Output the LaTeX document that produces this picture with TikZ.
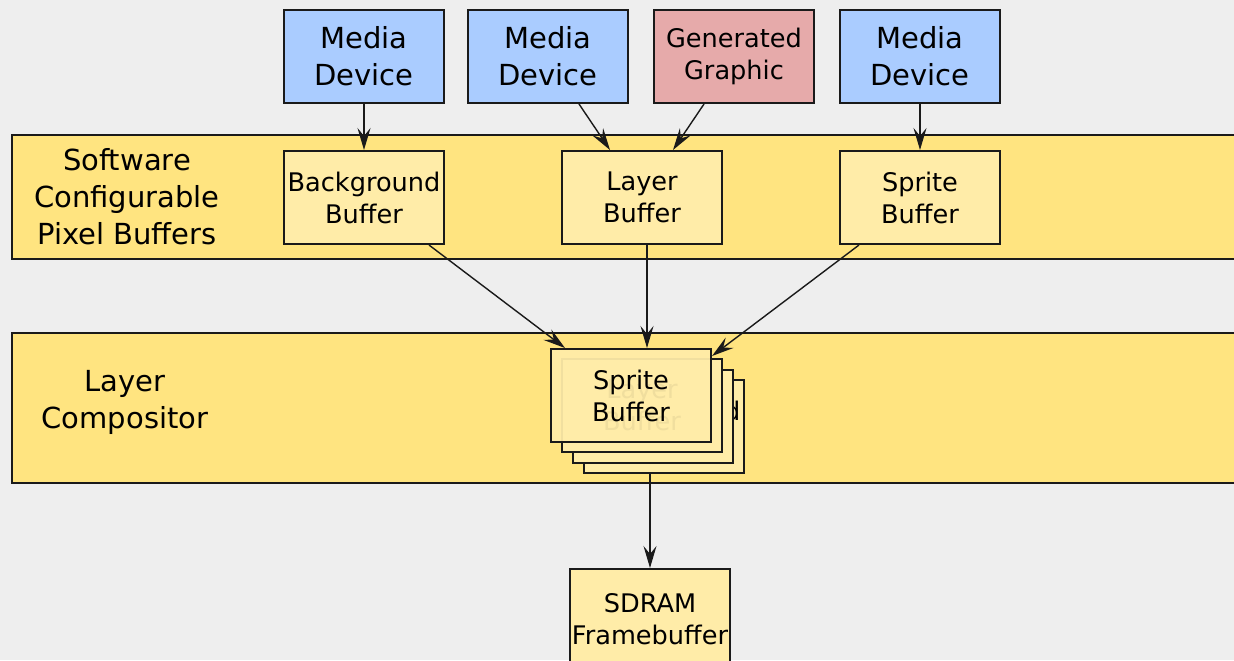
\documentclass[tikz,border=0pt]{standalone}
\usepackage{fontspec}
\setmainfont{DejaVu Sans}
\usetikzlibrary{arrows.meta}
\definecolor{bgc}{RGB}{238,238,238}
\definecolor{bandc}{RGB}{255,228,128}
\definecolor{boxc}{RGB}{255,236,168}
\definecolor{bluec}{RGB}{170,204,255}
\definecolor{pinkc}{RGB}{230,170,170}
\definecolor{linec}{RGB}{26,26,26}
\tikzset{
  band/.style={draw=linec, line width=1pt, fill=bandc},
  boxbase/.style={draw=linec, line width=1pt, minimum width=80pt, minimum height=46.5pt, inner sep=0pt, align=center, anchor=north west},
  bigtxt/.style={font=\fontsize{14.5}{18.5}\selectfont},
  smalltxt/.style={font=\fontsize{12.8}{16}\selectfont},
  media/.style={boxbase, fill=bluec, bigtxt},
  gen/.style={boxbase, fill=pinkc, smalltxt},
  buf/.style={boxbase, fill=boxc, smalltxt},
  lbl/.style={align=center, bigtxt},
  arr/.style={draw=linec, line width=0.7pt, -{Stealth[length=11pt,width=6.5pt,inset=4pt]}}
}
\begin{document}
\begin{tikzpicture}[x=0.5pt,y=-0.5pt]
\useasboundingbox (0,0) rectangle (1234,660);
\fill[bgc] (0,0) rectangle (1234,660);
% bands
\draw[band] (12,135) rectangle (1250,259);
\draw[band] (12,333) rectangle (1250,483);
\node[lbl] (swlbl) at (127,197) {Software\\Configurable\\Pixel Buffers};
\node[lbl] (lclbl) at (125,402) {Layer\\Compositor};
% top sources
\node[media] (md1) at (283,9) {Media\\Device};
\node[media] (md2) at (467,9) {Media\\Device};
\node[gen] (gg) at (653,9) {Generated\\Graphic};
\node[media] (md3) at (839,9) {Media\\Device};
% buffers
\node[buf] (bb) at (283,150) {Background\\Buffer};
\node[buf] (lb) at (561,150) {Layer\\Buffer};
\node[buf] (sb) at (839,150) {Sprite\\Buffer};
% compositor stack
\node[buf] (s4) at (583,379) {Background\\Buffer};
\node[buf] (s3) at (572,369) {};
\node[buf] (s2) at (561,358) {Layer\\Buffer};
\node[buf, fill opacity=0.94, text opacity=1] (s1) at (550,348) {Sprite\\Buffer};
% framebuffer
\node[buf, minimum height=50pt, anchor=north] (sd) at (650,568) {SDRAM\\Framebuffer};
% arrows
\draw[arr] (md1.south) -- (bb.north);
\draw[arr] ([xshift=15.5pt]md2.south) -- ([xshift=-16pt]lb.north);
\draw[arr] ([xshift=-15pt]gg.south) -- ([xshift=15.5pt]lb.north);
\draw[arr] (md3.south) -- (sb.north);
\draw[arr] ([xshift=-8pt]bb.south east) -- ([xshift=7.5pt]s1.north west);
\draw[arr] ([xshift=2.5pt]lb.south) -- ([xshift=2.5pt]lb.south |- s1.north);
\draw[arr] ([xshift=10pt]sb.south west) -- ([yshift=-4pt]s1.north east);
\draw[arr] (s4.south -| sd.north) -- (sd.north);
\end{tikzpicture}
\end{document}
